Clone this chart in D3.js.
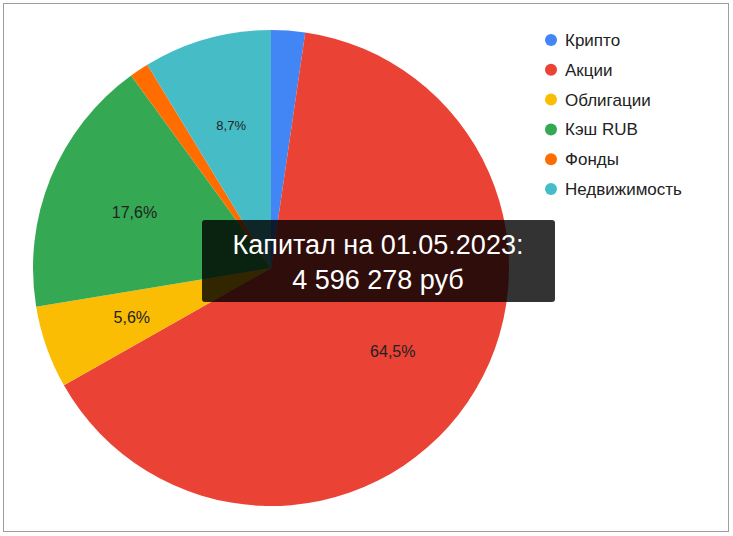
<!DOCTYPE html>
<html><head><meta charset="utf-8">
<script src="https://cdn.jsdelivr.net/npm/d3@7"></script>
<style>body{margin:0;background:#fff}</style>
</head><body>
<svg id="chart" width="733" height="536"></svg>
<script>
const categories = ["Крипто", "Акции", "Облигации", "Кэш RUB", "Фонды", "Недвижимость"];
const values = [2.3, 64.5, 5.6, 17.6, 1.3, 8.7];
const labels = ["", "64,5%", "5,6%", "17,6%", "", "8,7%"];
const colors = ["#4285f4", "#ea4335", "#fbbc04", "#34a853", "#ff6d01", "#46bdc6"];
const title = ["Капитал на 01.05.2023:", "4 596 278 руб"];

const svg = d3.select("#chart");
svg.append("rect").attr("x", 3.5).attr("y", 3.5).attr("width", 725).attr("height", 528)
  .attr("fill", "#fff").attr("stroke", "#9e9e9e");

const cx = 271, cy = 268, r = 238;
const g = svg.append("g").attr("transform", `translate(${cx},${cy})`);
const pie = d3.pie().sort(null)(values);
const arc = d3.arc().innerRadius(0).outerRadius(r);
g.selectAll("path").data(pie).enter().append("path")
  .attr("d", arc).attr("fill", (d, i) => colors[i]);

const labelArc = d3.arc().innerRadius(r * 0.62).outerRadius(r * 0.62);
g.selectAll("text.lbl").data(pie).enter().append("text")
  .attr("transform", d => `translate(${labelArc.centroid(d)})`)
  .attr("text-anchor", "middle").attr("dy", "0.35em")
  .attr("font-family", "Arial, Liberation Sans, sans-serif")
  .attr("font-size", (d, i) => i === 5 ? 13 : 16).attr("fill", "#222")
  .text((d, i) => labels[i]);

// legend
const lg = svg.append("g").attr("transform", "translate(551,40)");
const items = lg.selectAll("g").data(categories).enter().append("g")
  .attr("transform", (d, i) => `translate(0,${i * 29.8})`);
items.append("circle").attr("r", 6).attr("fill", (d, i) => colors[i]);
items.append("text").attr("x", 14).attr("dy", "0.35em")
  .attr("font-family", "Arial, Liberation Sans, sans-serif").attr("font-size", 17)
  .attr("fill", "#222").text(d => d);

// overlay title box
svg.append("rect").attr("x", 202).attr("y", 220).attr("width", 353).attr("height", 82)
  .attr("rx", 3).attr("fill", "rgba(0,0,0,0.8)");
svg.selectAll("text.ttl").data(title).enter().append("text")
  .attr("x", 378).attr("y", (d, i) => 254 + i * 35).attr("text-anchor", "middle")
  .attr("font-family", "Arial, Liberation Sans, sans-serif").attr("font-size", 27)
  .attr("fill", "#fff").text(d => d);
</script>
</body></html>
